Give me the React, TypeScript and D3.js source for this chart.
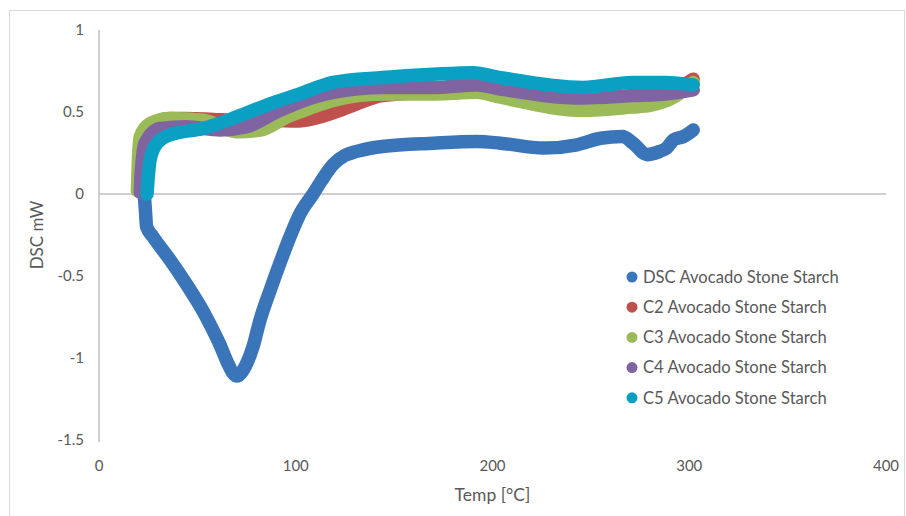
import React, { useEffect, useRef } from "react";
import * as d3 from "d3";

// DSC Avocado Stone Starch
const dscTemp = [23, 23.6, 24.2, 27.4, 36, 44.7, 52.9, 57.9, 61.5, 65, 68, 70.1, 72.3, 75.2, 78.3, 81.8, 86.9, 92, 97.1, 102.2, 108.8, 113, 119, 125, 131, 144, 170, 192, 204, 226, 243, 255, 266, 271.5, 278.5, 285, 288.5, 292, 297, 302];
const dscValue = [0.0, -0.1, -0.2, -0.26, -0.4, -0.555, -0.715, -0.83, -0.92, -1.02, -1.09, -1.11, -1.09, -1.03, -0.93, -0.77, -0.59, -0.42, -0.26, -0.12, 0.0, 0.08, 0.18, 0.235, 0.26, 0.29, 0.31, 0.32, 0.31, 0.28, 0.3, 0.34, 0.35, 0.31, 0.24, 0.26, 0.28, 0.33, 0.35, 0.39];

const c2Temp = [20, 20.5, 22, 26, 36, 44.5, 58, 70, 83, 100, 109, 119, 131, 144, 170, 192, 204, 240, 271, 288, 302];
const c2Value = [0.02, 0.2, 0.34, 0.42, 0.46, 0.46, 0.455, 0.45, 0.45, 0.445, 0.46, 0.495, 0.55, 0.6, 0.62, 0.63, 0.6, 0.56, 0.58, 0.61, 0.7];

const c3Temp = [19.5, 20, 21, 26, 36, 53, 70, 82, 95.5, 102, 111, 119, 144, 170, 192, 204, 246, 271, 280, 292, 300, 302];
const c3Value = [0.02, 0.2, 0.35, 0.43, 0.46, 0.45, 0.38, 0.39, 0.47, 0.5, 0.54, 0.57, 0.61, 0.61, 0.62, 0.59, 0.51, 0.53, 0.54, 0.59, 0.66, 0.68];

const c4Temp = [21, 21.3, 23.4, 31, 44.5, 61.5, 75, 92, 109, 119, 144, 170, 192, 204, 246, 271, 288, 302];
const c4Value = [0.01, 0.1, 0.31, 0.4, 0.41, 0.39, 0.41, 0.51, 0.59, 0.62, 0.65, 0.65, 0.665, 0.64, 0.585, 0.6, 0.61, 0.635];

const c5Temp = [24.4, 25, 26, 29.5, 36, 53, 70, 87, 102, 119, 144, 170, 190, 204, 246, 271, 288, 302];
const c5Value = [0.0, 0.1, 0.21, 0.31, 0.36, 0.4, 0.47, 0.55, 0.61, 0.68, 0.71, 0.73, 0.74, 0.71, 0.65, 0.68, 0.68, 0.665];

const seriesNames = [
  "DSC Avocado Stone Starch",
  "C2 Avocado Stone Starch",
  "C3 Avocado Stone Starch",
  "C4 Avocado Stone Starch",
  "C5 Avocado Stone Starch",
];
const seriesColors = ["#3b75b9", "#c0504d", "#9bbb59", "#8064a2", "#0aa0c4"];
const seriesTemps = [dscTemp, c2Temp, c3Temp, c4Temp, c5Temp];
const seriesValues = [dscValue, c2Value, c3Value, c4Value, c5Value];

const xTicks = [0, 100, 200, 300, 400];
const yTicks = [1, 0.5, 0, -0.5, -1, -1.5];

const W = 906;
const H = 516;
const FONT = "Lato, 'Open Sans', sans-serif";

const App = () => {
  const svgRef = useRef<SVGSVGElement>(null);

  useEffect(() => {
    const svg = d3.select(svgRef.current);
    svg.selectAll("*").remove();

    const x = d3.scaleLinear().domain([0, 400]).range([99, 886]);
    const y = d3.scaleLinear().domain([-1.5, 1]).range([440, 30]);

    // chart border
    svg
      .append("rect")
      .attr("x", 9.5)
      .attr("y", 10.5)
      .attr("width", 895)
      .attr("height", 520)
      .attr("fill", "#fff")
      .attr("stroke", "#d9d9d9");

    // y axis line
    svg
      .append("line")
      .attr("x1", x(0))
      .attr("x2", x(0))
      .attr("y1", y(1))
      .attr("y2", y(-1.5) + 2)
      .attr("stroke", "#bfbfbf")
      .attr("stroke-width", 1.5);

    // x axis at zero
    svg
      .append("line")
      .attr("x1", x(0))
      .attr("x2", x(400))
      .attr("y1", y(0))
      .attr("y2", y(0))
      .attr("stroke", "#bfbfbf")
      .attr("stroke-width", 1.5);

    // y tick labels
    svg
      .selectAll(".ytick")
      .data(yTicks)
      .enter()
      .append("text")
      .attr("x", 84)
      .attr("y", (d) => y(d))
      .attr("dy", "0.35em")
      .attr("text-anchor", "end")
      .attr("fill", "#595959")
      .style("font-family", FONT)
      .style("font-size", "15px")
      .text((d) => String(d));

    // x tick labels
    svg
      .selectAll(".xtick")
      .data(xTicks)
      .enter()
      .append("text")
      .attr("x", (d) => x(d))
      .attr("y", 466)
      .attr("dy", "0.35em")
      .attr("text-anchor", "middle")
      .attr("fill", "#595959")
      .style("font-family", FONT)
      .style("font-size", "15px")
      .text((d) => String(d));

    // axis titles
    svg
      .append("text")
      .attr("x", x(200))
      .attr("y", 495)
      .attr("dy", "0.35em")
      .attr("text-anchor", "middle")
      .attr("fill", "#595959")
      .style("font-family", FONT)
      .style("font-size", "17.5px")
      .text("Temp [°C]");

    svg
      .append("text")
      .attr("transform", `translate(37,${(y(1) + y(-1.5)) / 2}) rotate(-90)`)
      .attr("dy", "0.35em")
      .attr("text-anchor", "middle")
      .attr("fill", "#595959")
      .style("font-family", FONT)
      .style("font-size", "17px")
      .text("DSC mW");

    // lines
    const lineGen = d3
      .line<[number, number]>()
      .x((d) => x(d[0]))
      .y((d) => y(d[1]))
      .curve(d3.curveMonotoneX);

    seriesTemps.forEach((temps, i) => {
      const pts = temps.map((t, j) => [t, seriesValues[i][j]] as [number, number]);
      svg
        .append("path")
        .datum(pts)
        .attr("fill", "none")
        .attr("stroke", seriesColors[i])
        .attr("stroke-width", 13.5)
        .attr("stroke-linecap", "round")
        .attr("stroke-linejoin", "round")
        .attr("d", lineGen);
    });

    // legend
    const legend = svg
      .selectAll(".legend")
      .data(seriesNames)
      .enter()
      .append("g")
      .attr("transform", (_, i) => `translate(632,${277 + i * 30.2})`);

    legend
      .append("circle")
      .attr("r", 5.5)
      .attr("fill", (_, i) => seriesColors[i]);

    legend
      .append("text")
      .attr("x", 11)
      .attr("dy", "0.35em")
      .attr("fill", "#595959")
      .style("font-family", FONT)
      .style("font-size", "16.6px")
      .text((d) => d);
  }, []);

  return (
    <svg
      ref={svgRef}
      width={W}
      height={H}
      style={{ position: "absolute", left: 0, top: 0 }}
    />
  );
};

export default App;
